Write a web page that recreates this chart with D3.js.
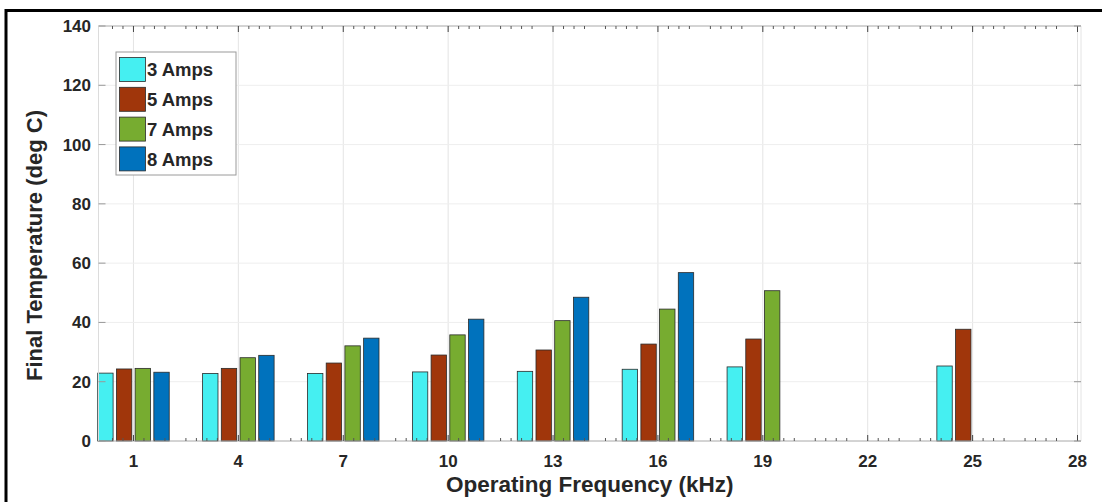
<!DOCTYPE html>
<html>
<head>
<meta charset="utf-8">
<script src="https://cdn.jsdelivr.net/npm/d3@7"></script>
<style>
  html, body { margin: 0; padding: 0; background: #fff; }
  svg { display: block; }
  text { font-family: "Liberation Sans", Arial, sans-serif; font-weight: bold; fill: #262626; }
</style>
</head>
<body>
<svg id="chart" width="1102" height="502"></svg>
<script>
// Final temperature per operating frequency, one series per coil current
const frequencies = [1, 4, 7, 10, 13, 16, 19, 22, 25, 28];
const seriesNames = ["3 Amps", "5 Amps", "7 Amps", "8 Amps"];
const amps3 = [22.9, 22.8, 22.8, 23.3, 23.5, 24.2, 25.0, null, 25.3, null];
const amps5 = [24.3, 24.5, 26.3, 29.0, 30.7, 32.7, 34.4, null, 37.7, null];
const amps7 = [24.5, 28.1, 32.1, 35.8, 40.6, 44.5, 50.7, null, null, null];
const amps8 = [23.2, 28.9, 34.7, 41.1, 48.5, 56.8, null, null, null, null];
const seriesColors = ["#45EFF1", "#A0360B", "#77AC30", "#0072BD"];
const xTickValues = [1, 4, 7, 10, 13, 16, 19, 22, 25, 28];
const yTickValues = [0, 20, 40, 60, 80, 100, 120, 140];
const minorOffsets = [0.3, 0.6, 0.9, 1.5, 1.8, 2.1, 2.4];

const allSeries = [amps3, amps5, amps7, amps8];

const svg = d3.select("#chart");
const W = 1102, H = 502;
const plot = { left: 98.5, right: 1081, top: 26, bottom: 441 };

const x = d3.scaleLinear().domain([0, 28.1]).range([plot.left, plot.right]);
const y = d3.scaleLinear().domain([0, 140]).range([plot.bottom, plot.top]);

// figure frame
svg.append("rect")
  .attr("x", 6).attr("y", 10.5)
  .attr("width", W + 10).attr("height", H + 10)
  .attr("fill", "#fff").attr("stroke", "#000").attr("stroke-width", 3);

// grid
const grid = svg.append("g");
grid.selectAll("line.gx").data(xTickValues).join("line")
  .attr("x1", d => x(d)).attr("x2", d => x(d))
  .attr("y1", plot.top).attr("y2", plot.bottom)
  .attr("stroke", "#e4e4e4").attr("stroke-width", 1);
grid.selectAll("line.gy").data(yTickValues.slice(1, -1)).join("line")
  .attr("x1", plot.left).attr("x2", plot.right)
  .attr("y1", d => y(d)).attr("y2", d => y(d))
  .attr("stroke", "#eeeeee").attr("stroke-width", 1);

// bars
const slot = 0.535, barW = 0.44;
const rows = frequencies.map((f, j) => ({ f, vals: allSeries.map(s => s[j]) }));
const bars = [];
rows.forEach(r => r.vals.forEach((v, i) => {
  if (v != null) bars.push({ f: r.f, i, v });
}));
svg.append("g").selectAll("rect").data(bars).join("rect")
  .attr("x", d => x(d.f + (d.i - 1.5) * slot - barW / 2))
  .attr("width", d => x(d.f + (d.i - 1.5) * slot + barW / 2) - x(d.f + (d.i - 1.5) * slot - barW / 2))
  .attr("y", d => y(d.v))
  .attr("height", d => y(0) - y(d.v))
  .attr("fill", d => seriesColors[d.i])
  .attr("stroke", "#2a2a2a").attr("stroke-width", 0.8);

// axes box
const box = svg.append("g").attr("stroke", "#a8a8a8").attr("stroke-width", 1).attr("fill", "none");
box.append("line").attr("x1", plot.left).attr("x2", plot.right).attr("y1", plot.bottom).attr("y2", plot.bottom);
box.append("line").attr("x1", plot.left).attr("x2", plot.right).attr("y1", plot.top).attr("y2", plot.top);
box.append("line").attr("x1", plot.left).attr("x2", plot.left).attr("y1", plot.top).attr("y2", plot.bottom).attr("stroke", "#dcdcdc");
box.append("line").attr("x1", plot.right).attr("x2", plot.right).attr("y1", plot.top).attr("y2", plot.bottom).attr("stroke", "#e4e4e4");

// x ticks (major + minor), bottom and top, pointing inward
const minorTicks = [];
xTickValues.forEach(t => minorOffsets.forEach(o => { if (t + o < 28.1) minorTicks.push(t + o); }));
[0.3, 0.6].forEach(o => minorTicks.push(1 - o));
const tickG = svg.append("g").attr("stroke", "#444");
[plot.bottom, plot.top].forEach(yy => {
  const dir = yy === plot.bottom ? -1 : 1;
  tickG.selectAll(null).data(minorTicks).join("line")
    .attr("x1", d => x(d)).attr("x2", d => x(d))
    .attr("y1", yy).attr("y2", yy + dir * 3).attr("stroke-width", 1).attr("stroke", "#555");
  tickG.selectAll(null).data(xTickValues).join("line")
    .attr("x1", d => x(d)).attr("x2", d => x(d))
    .attr("y1", yy).attr("y2", yy + dir * 6).attr("stroke-width", 1);
});
// y ticks, left and right
tickG.selectAll(null).data(yTickValues).join("line")
  .attr("x1", plot.left).attr("x2", plot.left + 7)
  .attr("y1", d => y(d)).attr("y2", d => y(d)).attr("stroke", "#999");
tickG.selectAll(null).data(yTickValues).join("line")
  .attr("x1", plot.right - 7).attr("x2", plot.right)
  .attr("y1", d => y(d)).attr("y2", d => y(d)).attr("stroke", "#999");

// tick labels
svg.append("g").selectAll("text").data(xTickValues).join("text")
  .attr("x", d => x(d)).attr("y", 467)
  .attr("text-anchor", "middle").attr("font-size", 17)
  .text(d => d);
svg.append("g").selectAll("text").data(yTickValues).join("text")
  .attr("x", 91).attr("y", d => y(d))
  .attr("dy", "0.35em")
  .attr("text-anchor", "end").attr("font-size", 17)
  .text(d => d);

// axis titles
svg.append("text")
  .attr("x", (plot.left + plot.right) / 2).attr("y", 492)
  .attr("text-anchor", "middle").attr("font-size", 22.5)
  .text("Operating Frequency (kHz)");
svg.append("text")
  .attr("transform", `translate(42, ${(plot.top + plot.bottom) / 2 + 12}) rotate(-90)`)
  .attr("text-anchor", "middle").attr("font-size", 22)
  .text("Final Temperature (deg C)");

// legend
const lg = svg.append("g").attr("transform", "translate(116, 52)");
lg.append("rect").attr("width", 120).attr("height", 123)
  .attr("fill", "#fff").attr("stroke", "#9a9a9a").attr("stroke-width", 1);
const items = lg.selectAll("g").data(seriesNames).join("g")
  .attr("transform", (d, i) => `translate(0, ${17.5 + i * 29.8})`);
items.append("rect")
  .attr("x", 3.5).attr("y", -12).attr("width", 26).attr("height", 24)
  .attr("fill", (d, i) => seriesColors[i])
  .attr("stroke", "#2a2a2a").attr("stroke-width", 0.8);
items.append("text")
  .attr("x", 31).attr("y", 0).attr("dy", "0.36em")
  .attr("font-size", 18.5)
  .text(d => d);
</script>
</body>
</html>
